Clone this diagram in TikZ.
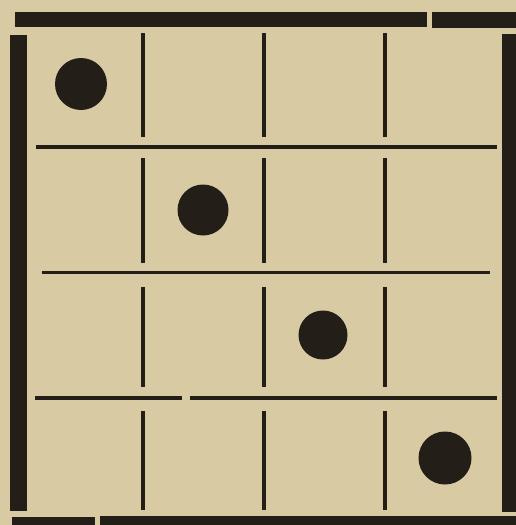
\documentclass[tikz,border=0pt]{standalone}
\definecolor{paper}{HTML}{D8CAA3}
\definecolor{ink}{HTML}{231E17}
\tikzset{
  bar/.style={fill=ink, draw=none},
  gridline/.style={draw=ink, line width=3.2pt},
  dot/.style={circle, fill=ink, draw=none, inner sep=0pt},
}
\begin{document}
\begin{tikzpicture}[x=1pt,y=-1pt]
\fill[paper] (0,0) rectangle (516,525);
\useasboundingbox (0,0) rectangle (516,525);
% frame bars
\fill[bar] (15,12) rectangle (427,27);
\fill[bar] (432,12) rectangle (516,28);
\fill[bar] (10,35) rectangle (27,511);
\fill[bar] (502,34) rectangle (516,512);
\fill[bar] (12,517) rectangle (95,525);
\fill[bar] (100,516) rectangle (516,525);
% horizontal grid lines
\coordinate (h1a) at (36,147); \coordinate (h1b) at (497,147);
\coordinate (h2a) at (42,272.5); \coordinate (h2b) at (490,272.5);
\coordinate (h3a) at (35,398); \coordinate (h3b) at (182,398);
\coordinate (h3c) at (190,398); \coordinate (h3d) at (497,398);
\draw[gridline] (h1a) -- (h1b);
\draw[gridline] (h2a) -- (h2b);
\draw[gridline] (h3a) -- (h3b);
\draw[gridline] (h3c) -- (h3d);
% vertical grid segments
\foreach \x in {143,264,385}{
  \draw[gridline] (\x,33) -- (\x,137);
  \draw[gridline] (\x,158) -- (\x,263);
  \draw[gridline] (\x,287) -- (\x,387);
  \draw[gridline] (\x,411) -- (\x,510);
}
% dots
\node[dot, minimum size=52pt] (d1) at (81,84) {};
\node[dot, minimum size=51pt] (d2) at (203,210) {};
\node[dot, minimum size=49pt] (d3) at (323,335) {};
\node[dot, minimum size=53pt] (d4) at (445,458) {};
\end{tikzpicture}
\end{document}
